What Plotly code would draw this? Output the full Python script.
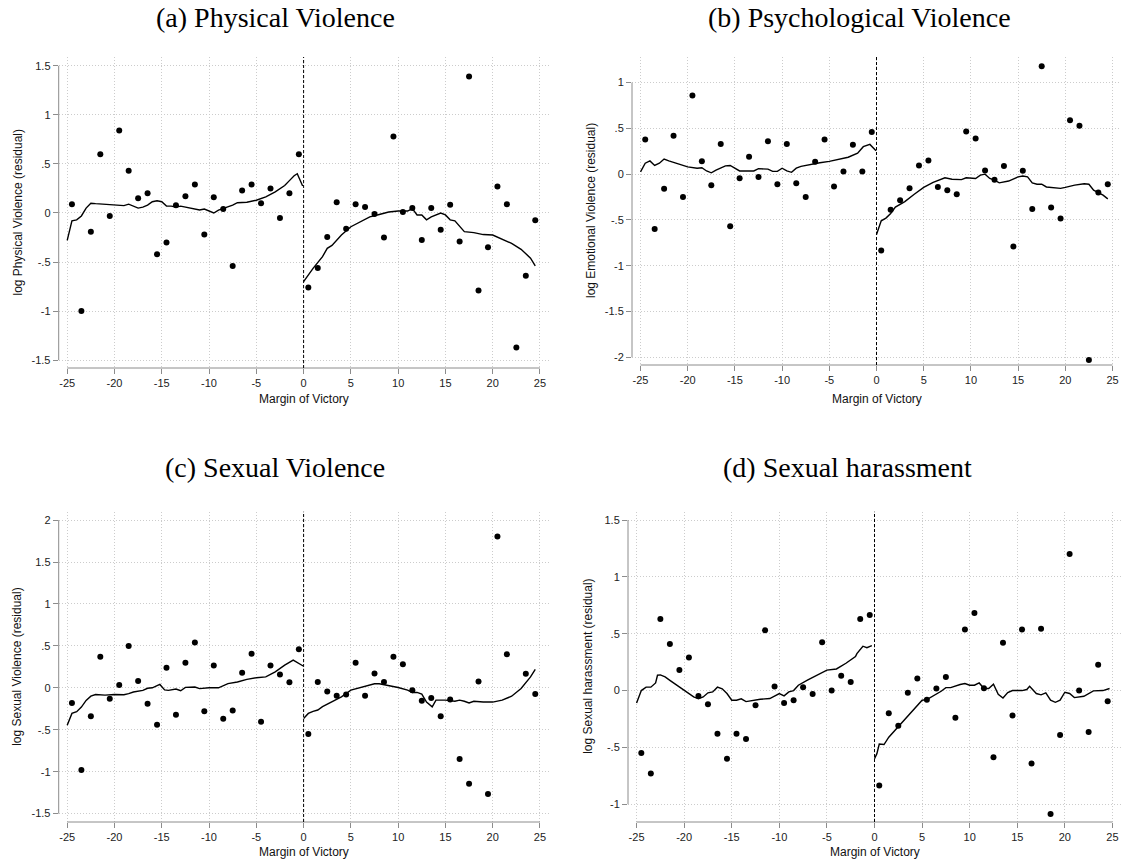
import plotly.graph_objects as go

W, H = 1122, 865

# ---- binned means (bins of width 1 on each side of the cutoff) ----
bins_left = [-24.5, -23.5, -22.5, -21.5, -20.5, -19.5, -18.5, -17.5, -16.5, -15.5,
             -14.5, -13.5, -12.5, -11.5, -10.5, -9.5, -8.5, -7.5, -6.5, -5.5,
             -4.5, -3.5, -2.5, -1.5, -0.5]
bins_right = [0.5, 1.5, 2.5, 3.5, 4.5, 5.5, 6.5, 7.5, 8.5, 9.5,
              10.5, 11.5, 12.5, 13.5, 14.5, 15.5, 16.5, 17.5, 18.5, 19.5,
              20.5, 21.5, 22.5, 23.5, 24.5]

# (a) Physical violence
phys_left = [0.09, -1.0, -0.19, 0.60, -0.03, 0.84, 0.43, 0.15, 0.20, -0.42,
             -0.30, 0.08, 0.17, 0.29, -0.22, 0.16, 0.04, -0.54, 0.23, 0.29,
             0.10, 0.25, -0.05, 0.20, 0.60]
phys_right = [-0.76, -0.56, -0.245, 0.11, -0.16, 0.09, 0.06, -0.01, -0.25, 0.78,
              0.01, 0.05, -0.275, 0.05, -0.17, 0.085, -0.29, 1.39, -0.79, -0.35,
              0.27, 0.09, -1.37, -0.64, -0.075]
phys_fit_lx = [-25, -24.5, -24, -23.5, -23, -22.5, -22, -21, -20, -19, -18.5, -18,
               -17.5, -17, -16.5, -16, -15.5, -15, -14.5, -14, -13.5, -13, -12.5,
               -12, -11, -10.5, -10, -9.5, -9, -8.5, -8, -7.5, -7, -6, -5, -4, -3,
               -2, -1.5, -1, -0.67, -0.1]
phys_fit_ly = [-0.28, -0.08, -0.07, -0.03, 0.05, 0.10, 0.095, 0.09, 0.08, 0.075, 0.09,
               0.07, 0.05, 0.06, 0.08, 0.115, 0.125, 0.115, 0.07, 0.07, 0.06, 0.07,
               0.06, 0.05, 0.03, 0.04, 0.02, 0.0, 0.03, 0.045, 0.065, 0.08, 0.105,
               0.11, 0.13, 0.165, 0.215, 0.28, 0.33, 0.38, 0.40, 0.275]
phys_fit_rx = [0, 0.5, 1, 2, 2.5, 3, 4, 5, 6, 7, 8, 9, 10, 11, 11.5, 12, 12.5, 13,
               13.5, 14, 14.5, 15, 15.5, 16, 17, 18, 19, 20, 21, 22, 23, 24, 24.5]
phys_fit_ry = [-0.70, -0.63, -0.565, -0.445, -0.36, -0.33, -0.225, -0.14, -0.09,
               -0.04, -0.015, 0.01, 0.02, 0.02, 0.045, -0.02, -0.02, -0.07, -0.04,
               -0.02, 0.0, -0.02, -0.07, -0.08, -0.19, -0.20, -0.22, -0.225, -0.27,
               -0.31, -0.37, -0.46, -0.54]

# (b) Psychological violence
emo_left = [0.38, -0.60, -0.16, 0.42, -0.25, 0.86, 0.14, -0.12, 0.33, -0.57,
            -0.044, 0.19, -0.03, 0.36, -0.11, 0.33, -0.10, -0.25, 0.135, 0.38,
            -0.135, 0.03, 0.32, 0.03, 0.46]
emo_right = [-0.835, -0.39, -0.285, -0.155, 0.095, 0.15, -0.14, -0.175, -0.22, 0.465,
             0.39, 0.04, -0.06, 0.09, -0.79, 0.036, -0.38, 1.18, -0.365, -0.485,
             0.59, 0.53, -2.03, -0.2, -0.11]
emo_fit_lx = [-25, -24.5, -24, -23.5, -23, -22.5, -22, -21, -20, -19, -18.5, -18,
              -17.5, -17, -16, -15.5, -15, -14.5, -14, -13, -12.5, -12, -11.5, -11,
              -10.5, -10, -9.5, -9, -8.5, -8, -7.5, -7, -6, -5, -4, -3, -2, -1.4,
              -0.7, -0.05]
emo_fit_ly = [0.025, 0.12, 0.145, 0.095, 0.12, 0.165, 0.145, 0.11, 0.08, 0.065, 0.07,
              0.035, 0.015, 0.045, 0.09, 0.095, 0.065, 0.035, 0.035, 0.035, 0.06,
              0.055, 0.055, 0.03, 0.03, 0.065, 0.035, 0.02, 0.065, 0.085, 0.095,
              0.11, 0.125, 0.14, 0.16, 0.185, 0.23, 0.30, 0.325, 0.255]
emo_fit_rx = [0, 0.5, 1, 1.5, 2, 3, 4, 5, 6, 7, 7.25, 8, 9, 9.5, 10.5, 11, 11.5, 12,
              12.5, 13, 14, 15, 15.5, 16, 16.5, 17, 17.5, 18, 19, 19.5, 20, 21, 22,
              22.5, 23, 24, 24.5]
emo_fit_ry = [-0.66, -0.51, -0.48, -0.43, -0.36, -0.30, -0.22, -0.145, -0.09, -0.047,
              -0.04, -0.055, -0.06, -0.04, -0.047, -0.01, 0.0, -0.047, -0.065, -0.095,
              -0.075, -0.03, -0.02, -0.03, -0.095, -0.11, -0.11, -0.14, -0.145,
              -0.155, -0.145, -0.12, -0.105, -0.11, -0.175, -0.23, -0.27]

# (c) Sexual violence
sex_left = [-0.18, -0.98, -0.34, 0.37, -0.13, 0.035, 0.50, 0.08, -0.19, -0.44,
            0.24, -0.32, 0.30, 0.54, -0.28, 0.265, -0.37, -0.27, 0.18, 0.405,
            -0.405, 0.265, 0.16, 0.065, 0.46]
sex_right = [-0.55, 0.07, -0.045, -0.095, -0.08, 0.30, -0.095, 0.17, 0.07, 0.37,
             0.28, -0.03, -0.155, -0.12, -0.34, -0.14, -0.85, -1.145, 0.075, -1.265,
             1.805, 0.40, None, 0.167, -0.075]
sex_fit_lx = [-25, -24.5, -24, -23.5, -23, -22.5, -22, -21, -20, -19, -18.5, -18,
              -17, -16.5, -16, -15.5, -15.2, -14.7, -14.3, -13.5, -13, -12.5, -11.5,
              -11, -10, -9, -8, -7, -6, -5, -4, -3, -2, -1.1, -0.05]
sex_fit_ly = [-0.445, -0.305, -0.285, -0.23, -0.15, -0.10, -0.08, -0.087, -0.08,
              -0.083, -0.07, -0.05, -0.03, -0.005, 0.0, 0.03, 0.04, -0.025, -0.03,
              -0.015, -0.035, 0.005, 0.01, -0.01, 0.0, 0.0, 0.05, 0.07, 0.10, 0.12,
              0.13, 0.19, 0.27, 0.33, 0.26]
sex_fit_rx = [0, 0.5, 1, 1.5, 2, 3, 4, 5, 6, 7, 7.5, 8, 9, 10, 11, 11.5, 12, 12.5, 13,
              13.6, 14, 15, 16, 16.5, 17, 17.5, 18, 19, 20, 21, 22, 23, 24, 24.5]
sex_fit_ry = [-0.365, -0.305, -0.28, -0.265, -0.225, -0.167, -0.107, -0.028, 0.0,
              0.028, 0.048, 0.048, 0.028, 0.004, -0.028, -0.055, -0.055, -0.075,
              -0.17, -0.227, -0.147, -0.147, -0.16, -0.147, -0.16, -0.18, -0.16,
              -0.17, -0.17, -0.147, -0.1, -0.008, 0.13, 0.22]

# (d) Sexual harassment
har_left = [-0.55, -0.73, 0.63, 0.41, 0.18, 0.29, -0.047, -0.12, -0.38, -0.60,
            -0.38, -0.425, -0.13, 0.53, 0.035, -0.11, -0.085, 0.03, -0.03, 0.425,
            0.0, 0.13, 0.076, 0.63, 0.665]
har_right = [-0.835, -0.2, -0.31, -0.02, 0.105, -0.08, 0.018, 0.12, -0.24, 0.537,
             0.683, 0.02, -0.587, 0.42, -0.22, 0.537, -0.642, 0.543, -1.085, -0.39,
             1.20, 0.0, -0.364, 0.226, -0.094]
har_fit_lx = [-25, -24.5, -24, -23.5, -23, -22.8, -22.5, -22, -21.5, -21, -20, -19,
              -18.5, -18, -17.5, -17, -16.5, -16, -15.5, -15, -14.5, -14, -13.5, -13,
              -12, -11, -10.5, -10, -9.5, -9, -8.5, -8, -7, -6, -5, -4, -3, -2,
              -1.85, -1.22, -0.8, -0.28]
har_fit_ly = [-0.11, 0.0, 0.03, 0.03, 0.067, 0.135, 0.138, 0.12, 0.09, 0.06, 0.006,
              -0.056, -0.073, -0.056, -0.02, -0.012, 0.03, 0.015, -0.026, -0.085,
              -0.085, -0.073, -0.097, -0.088, -0.076, -0.07, -0.05, -0.026, -0.047,
              -0.012, 0.0, 0.047, 0.094, 0.14, 0.18, 0.19, 0.24, 0.30, 0.325, 0.39,
              0.377, 0.396]
har_fit_rx = [0, 0.25, 0.5, 1, 1.5, 2, 3, 4, 5, 5.5, 6, 7, 7.5, 8, 9, 9.5, 10, 10.5,
              11, 11.5, 12, 12.5, 13, 13.5, 14, 14.5, 15, 15.5, 16, 16.3, 17, 17.5,
              18, 18.5, 19, 19.5, 20, 20.5, 21, 21.5, 22, 23, 23.5, 24, 24.7]
har_fit_ry = [-0.60, -0.555, -0.47, -0.475, -0.41, -0.364, -0.267, -0.173, -0.085,
              -0.08, -0.056, -0.006, 0.026, 0.026, 0.053, 0.062, 0.047, 0.047, 0.067,
              0.018, 0.018, 0.056, -0.032, -0.065, -0.018, 0.0, 0.0, 0.0, 0.009,
              0.038, -0.026, -0.038, -0.02, -0.085, -0.103, -0.085, -0.015, -0.026,
              -0.062, -0.056, -0.05, -0.003, 0.0, 0.0, 0.018]

# ---- tick labels ----
x_ticks = [-25, -20, -15, -10, -5, 0, 5, 10, 15, 20, 25]
x_ticktext = ["-25", "-20", "-15", "-10", "-5", "0", "5", "10", "15", "20", "25"]
y_ticks_a = [-1.5, -1, -0.5, 0, 0.5, 1, 1.5]
y_text_a = ["-1.5", "-1", "-.5", "0", ".5", "1", "1.5"]
y_ticks_b = [-2, -1.5, -1, -0.5, 0, 0.5, 1]
y_text_b = ["-2", "-1.5", "-1", "-.5", "0", ".5", "1"]
y_ticks_c = [-1.5, -1, -0.5, 0, 0.5, 1, 1.5, 2]
y_text_c = ["-1.5", "-1", "-.5", "0", ".5", "1", "1.5", "2"]
y_ticks_d = [-1, -0.5, 0, 0.5, 1, 1.5]
y_text_d = ["-1", "-.5", "0", ".5", "1", "1.5"]

panels = [
    dict(title="(a) Physical Violence", ytitle="log Physical Violence (residual)",
         pl=phys_left, pr=phys_right, flx=phys_fit_lx, fly=phys_fit_ly,
         frx=phys_fit_rx, fry=phys_fit_ry, yt=y_ticks_a, ytt=y_text_a,
         px=(58.7, 548.5), py=(57, 368), yr=(-1.58, 1.59),
         tpos=(275, 17), ytx=17, xtitle_y=399),
    dict(title="(b) Psychological Violence", ytitle="log Emotional Violence (residual)",
         pl=emo_left, pr=emo_right, flx=emo_fit_lx, fly=emo_fit_ly,
         frx=emo_fit_rx, fry=emo_fit_ry, yt=y_ticks_b, ytt=y_text_b,
         px=(632, 1121), py=(57, 365), yr=(-2.085, 1.28),
         tpos=(859, 17), ytx=591, xtitle_y=399),
    dict(title="(c) Sexual Violence", ytitle="log Sexual Violence (residual)",
         pl=sex_left, pr=sex_right, flx=sex_fit_lx, fly=sex_fit_ly,
         frx=sex_fit_rx, fry=sex_fit_ry, yt=y_ticks_c, ytt=y_text_c,
         px=(58.7, 548.5), py=(511.7, 822), yr=(-1.6, 2.1),
         tpos=(275, 468), ytx=17, xtitle_y=852),
    dict(title="(d) Sexual harassment", ytitle="log Sexual harassment (residual)",
         pl=har_left, pr=har_right, flx=har_fit_lx, fly=har_fit_ly,
         frx=har_fit_rx, fry=har_fit_ry, yt=y_ticks_d, ytt=y_text_d,
         px=(628, 1121), py=(511.7, 822), yr=(-1.156, 1.573),
         tpos=(848, 468), ytx=588, xtitle_y=852),
]

XR = (-25.9, 25.9)
AXIS_GRAY = "#8c8c8c"
GRID = "#cccccc"
TICK_FONT = dict(family="Liberation Sans, Arial, sans-serif", size=11, color="#222")
LABEL_FONT = dict(family="Liberation Sans, Arial, sans-serif", size=12, color="#111")
TITLE_FONT = dict(family="Liberation Serif, Times New Roman, serif", size=28, color="#000")

fig = go.Figure()
shapes, annotations = [], []
layout = {}

for i, p in enumerate(panels, start=1):
    xa = "x" if i == 1 else f"x{i}"
    ya = "y" if i == 1 else f"y{i}"
    xkey = "xaxis" if i == 1 else f"xaxis{i}"
    ykey = "yaxis" if i == 1 else f"yaxis{i}"

    # binned scatter
    fig.add_trace(go.Scatter(x=bins_left + bins_right, y=p["pl"] + p["pr"],
                             mode="markers", xaxis=xa, yaxis=ya,
                             marker=dict(color="black", size=6, line=dict(width=0)),
                             showlegend=False, hoverinfo="skip"))
    # local fits on each side of the cutoff
    for fx, fy in ((p["flx"], p["fly"]), (p["frx"], p["fry"])):
        fig.add_trace(go.Scatter(x=fx, y=fy, mode="lines", xaxis=xa, yaxis=ya,
                                 line=dict(color="black", width=1.4),
                                 showlegend=False, hoverinfo="skip"))

    x0, x1 = p["px"][0] / W, p["px"][1] / W
    y0, y1 = 1 - p["py"][1] / H, 1 - p["py"][0] / H
    layout[xkey] = dict(domain=[x0, x1], range=list(XR), anchor=ya,
                        tickvals=x_ticks, ticktext=x_ticktext,
                        ticks="outside", ticklen=5, tickwidth=1, tickcolor=AXIS_GRAY,
                        showgrid=True, gridcolor=GRID, griddash="1px,2px", gridwidth=1,
                        zeroline=False, showline=False, tickfont=TICK_FONT,
                        fixedrange=True)
    layout[ykey] = dict(domain=[y0, y1], range=list(p["yr"]), anchor=xa,
                        tickvals=p["yt"], ticktext=p["ytt"],
                        ticks="outside", ticklen=5, tickwidth=1, tickcolor=AXIS_GRAY,
                        showgrid=True, gridcolor=GRID, griddash="1px,2px", gridwidth=1,
                        zeroline=False, showline=False, tickfont=TICK_FONT,
                        fixedrange=True)

    # axis lines spanning the labelled range only
    shapes.append(dict(type="line", xref=f"{xa} domain", yref=ya,
                       x0=0, x1=0, y0=min(p["yt"]), y1=max(p["yt"]),
                       line=dict(color=AXIS_GRAY, width=1)))
    shapes.append(dict(type="line", xref=xa, yref=f"{ya} domain",
                       x0=x_ticks[0], x1=x_ticks[-1], y0=0, y1=0,
                       line=dict(color=AXIS_GRAY, width=1)))
    # cutoff
    shapes.append(dict(type="line", xref=xa, yref=f"{ya} domain",
                       x0=0, x1=0, y0=0, y1=1,
                       line=dict(color="black", width=1, dash="3px,2px")))

    annotations.append(dict(text=p["title"], x=p["tpos"][0] / W, y=1 - p["tpos"][1] / H,
                            xref="paper", yref="paper", xanchor="center",
                            yanchor="middle", showarrow=False, font=TITLE_FONT))
    annotations.append(dict(text=p["ytitle"], x=p["ytx"] / W, y=(y0 + y1) / 2,
                            xref="paper", yref="paper", xanchor="center",
                            yanchor="middle", textangle=-90, showarrow=False,
                            font=LABEL_FONT))
    annotations.append(dict(text="Margin of Victory", x=0, xref=xa,
                            y=1 - p["xtitle_y"] / H, yref="paper",
                            xanchor="center", yanchor="middle", showarrow=False,
                            font=LABEL_FONT))

fig.update_layout(width=W, height=H, margin=dict(l=0, r=0, t=0, b=0),
                  paper_bgcolor="white", plot_bgcolor="white",
                  shapes=shapes, annotations=annotations, **layout)

fig.write_html("out.html")
